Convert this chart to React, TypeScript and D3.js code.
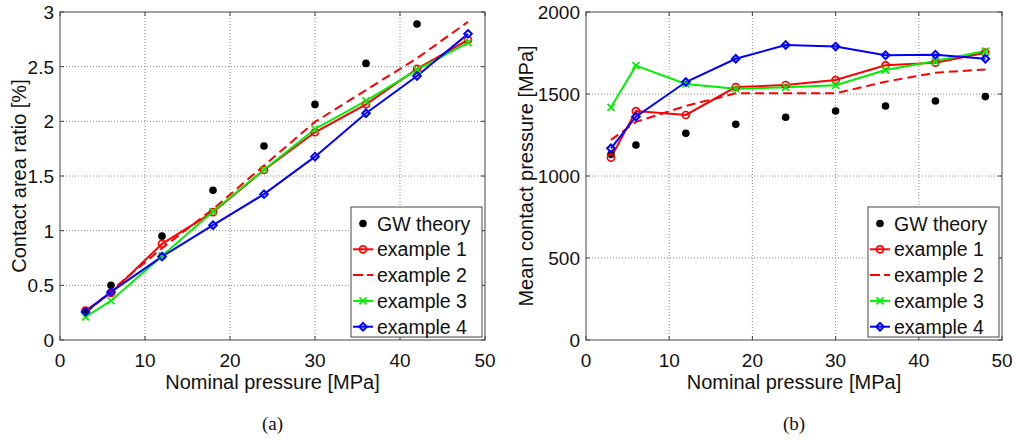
import React from "react";
import * as d3 from "d3";

const pressures = [3, 6, 12, 18, 24, 30, 36, 42, 48];

// Panel (a): contact area ratio [%]
const gwArea = [0.265, 0.5, 0.95, 1.37, 1.775, 2.155, 2.53, 2.89, 3.24];
const ex1Area = [0.27, 0.43, 0.88, 1.17, 1.555, 1.9, 2.156, 2.48, 2.745];
const ex2Area = [0.246, 0.45, 0.84, 1.197, 1.596, 1.995, 2.286, 2.577, 2.91];
const ex3Area = [0.211, 0.359, 0.769, 1.175, 1.557, 1.93, 2.187, 2.47, 2.72];
const ex4Area = [0.257, 0.44, 0.763, 1.05, 1.334, 1.677, 2.074, 2.414, 2.8];

// Panel (b): mean contact pressure [MPa]
const gwPres = [1132, 1189, 1260, 1315, 1358, 1396, 1427, 1457, 1484];
const ex1Pres = [1112, 1396, 1372, 1542, 1555, 1585, 1675, 1691, 1752];
const ex2Pres = [1220, 1330, 1427, 1504, 1504, 1504, 1575, 1630, 1650];
const ex3Pres = [1419, 1673, 1561, 1532, 1541, 1553, 1646, 1701, 1762];
const ex4Pres = [1169, 1362, 1573, 1715, 1799, 1789, 1736, 1740, 1715];

const xTicks = [0, 10, 20, 30, 40, 50];
const areaTicks = [0, 0.5, 1, 1.5, 2, 2.5, 3];
const areaTickLabels = ["0", "0.5", "1", "1.5", "2", "2.5", "3"];
const presTicks = [0, 500, 1000, 1500, 2000];
const presTickLabels = ["0", "500", "1000", "1500", "2000"];

const legendLabels = ["GW theory", "example 1", "example 2", "example 3", "example 4"];

const FONT = "'Liberation Sans', Arial, Helvetica, sans-serif";
const RED = "#ff0000";
const GREEN = "#00f000";
const BLUE = "#0000ff";

type Marker = "dot" | "circle" | "none" | "x" | "diamond";

function MarkerShape({ type, x, y, color }: { type: Marker; x: number; y: number; color: string }) {
  if (type === "dot") return <circle cx={x} cy={y} r={3.8} fill="#000" />;
  if (type === "circle")
    return <circle cx={x} cy={y} r={3.5} fill="none" stroke={color} strokeWidth={1.7} />;
  if (type === "x") {
    const s = 3.5;
    return (
      <path
        d={`M${x - s},${y - s}L${x + s},${y + s}M${x - s},${y + s}L${x + s},${y - s}`}
        stroke={color}
        strokeWidth={1.7}
        fill="none"
      />
    );
  }
  if (type === "diamond") {
    const s = 3.8;
    return (
      <path
        d={`M${x},${y - s}L${x + s},${y}L${x},${y + s}L${x - s},${y}Z`}
        stroke={color}
        strokeWidth={2}
        fill="none"
      />
    );
  }
  return null;
}

interface Series {
  values: number[];
  color: string;
  marker: Marker;
  dashed?: boolean;
  line: boolean;
}

interface PanelProps {
  id: string;
  left: number;
  right: number;
  top: number;
  bottom: number;
  yMax: number;
  yTicks: number[];
  yTickLabels: string[];
  yLabel: string;
  series: Series[];
  legendX: number;
  caption: string;
  yLabelX: number;
}

function Panel(p: PanelProps) {
  const x = d3.scaleLinear().domain([0, 50]).range([p.left, p.right]);
  const y = d3.scaleLinear().domain([0, p.yMax]).range([p.bottom, p.top]);
  const line = d3
    .line<number>()
    .x((_, i) => x(pressures[i]))
    .y((d) => y(d));
  const tickLen = 4;
  const cx = (p.left + p.right) / 2;
  const cy = (p.top + p.bottom) / 2;
  const lgTop = 207;
  const lgW = 131;
  const lgH = 130;
  const rowH = 25.8;
  return (
    <g>
      <defs>
        <clipPath id={p.id}>
          <rect x={p.left} y={p.top} width={p.right - p.left} height={p.bottom - p.top} />
        </clipPath>
      </defs>
      <rect x={p.left} y={p.top} width={p.right - p.left} height={p.bottom - p.top} fill="#fff" />
      {xTicks.slice(1, -1).map((t) => (
        <line
          key={"gx" + t}
          x1={x(t)}
          x2={x(t)}
          y1={p.top}
          y2={p.bottom}
          stroke="#888"
          strokeWidth={1}
          strokeDasharray="1,2"
        />
      ))}
      {p.yTicks.slice(1, -1).map((t) => (
        <line
          key={"gy" + t}
          x1={p.left}
          x2={p.right}
          y1={y(t)}
          y2={y(t)}
          stroke="#888"
          strokeWidth={1}
          strokeDasharray="1,2"
        />
      ))}
      {xTicks.map((t) => (
        <g key={"tx" + t}>
          <line x1={x(t)} x2={x(t)} y1={p.bottom} y2={p.bottom - tickLen} stroke="#444" />
          <line x1={x(t)} x2={x(t)} y1={p.top} y2={p.top + tickLen} stroke="#444" />
          <text
            x={x(t)}
            y={p.bottom + 27}
            textAnchor="middle"
            fontFamily={FONT}
            fontSize={19}
            fill="#111"
          >
            {t}
          </text>
        </g>
      ))}
      {p.yTicks.map((t, i) => (
        <g key={"ty" + t}>
          <line x1={p.left} x2={p.left + tickLen} y1={y(t)} y2={y(t)} stroke="#444" />
          <line x1={p.right} x2={p.right - tickLen} y1={y(t)} y2={y(t)} stroke="#444" />
          <text
            x={p.left - 6}
            y={y(t) + 7}
            textAnchor="end"
            fontFamily={FONT}
            fontSize={19}
            fill="#111"
          >
            {p.yTickLabels[i]}
          </text>
        </g>
      ))}
      <g clipPath={`url(#${p.id})`}>
        {p.series.map((s, si) =>
          s.line ? (
            <path
              key={"l" + si}
              d={line(s.values) || ""}
              fill="none"
              stroke={s.color}
              strokeWidth={2}
              strokeDasharray={s.dashed ? "9,5" : undefined}
            />
          ) : null
        )}
        {p.series.map((s, si) =>
          s.values.map((v, i) => (
            <MarkerShape key={"m" + si + "-" + i} type={s.marker} x={x(pressures[i])} y={y(v)} color={s.color} />
          ))
        )}
      </g>
      <rect
        x={p.left}
        y={p.top}
        width={p.right - p.left}
        height={p.bottom - p.top}
        fill="none"
        stroke="#444"
        strokeWidth={1}
      />
      <g>
        <rect x={p.legendX} y={lgTop} width={lgW} height={lgH} fill="#fff" stroke="#444" strokeWidth={1} />
        {p.series.map((s, si) => {
          const ry = lgTop + 16.5 + si * rowH;
          const lx1 = p.legendX + 2;
          const lx2 = p.legendX + 22;
          return (
            <g key={"lg" + si}>
              {s.line ? (
                <line
                  x1={lx1}
                  x2={lx2}
                  y1={ry}
                  y2={ry}
                  stroke={s.color}
                  strokeWidth={2}
                  strokeDasharray={s.dashed ? "10,4" : undefined}
                />
              ) : null}
              <MarkerShape type={s.marker} x={(lx1 + lx2) / 2} y={ry} color={s.color} />
              <text x={p.legendX + 26} y={ry + 7} fontFamily={FONT} fontSize={19.5} fill="#111">
                {legendLabels[si]}
              </text>
            </g>
          );
        })}
      </g>
      <text x={cx} y={389} textAnchor="middle" fontFamily={FONT} fontSize={20} fill="#111">
        Nominal pressure [MPa]
      </text>
      <text
        transform={`translate(${p.yLabelX},${cy}) rotate(-90)`}
        textAnchor="middle"
        fontFamily={FONT}
        fontSize={20}
        fill="#111"
      >
        {p.yLabel}
      </text>
      <text
        x={cx}
        y={430}
        textAnchor="middle"
        fontFamily="'Liberation Serif', 'DejaVu Serif', serif"
        fontSize={19}
        fill="#111"
      >
        {p.caption}
      </text>
    </g>
  );
}

export default function App() {
  const seriesA: Series[] = [
    { values: gwArea, color: "#000", marker: "dot", line: false },
    { values: ex1Area, color: RED, marker: "circle", line: true },
    { values: ex2Area, color: RED, marker: "none", line: true, dashed: true },
    { values: ex3Area, color: GREEN, marker: "x", line: true },
    { values: ex4Area, color: BLUE, marker: "diamond", line: true },
  ];
  const seriesB: Series[] = [
    { values: gwPres, color: "#000", marker: "dot", line: false },
    { values: ex1Pres, color: RED, marker: "circle", line: true },
    { values: ex2Pres, color: RED, marker: "none", line: true, dashed: true },
    { values: ex3Pres, color: GREEN, marker: "x", line: true },
    { values: ex4Pres, color: BLUE, marker: "diamond", line: true },
  ];
  return (
    <svg
      width={1017}
      height={441}
      style={{ position: "absolute", left: 0, top: 0, background: "#fff" }}
    >
      <rect x={0} y={0} width={1017} height={441} fill="#fff" />
      <Panel
        id="clipA"
        left={60}
        right={485}
        top={12}
        bottom={340}
        yMax={3}
        yTicks={areaTicks}
        yTickLabels={areaTickLabels}
        yLabel="Contact area ratio [%]"
        series={seriesA}
        legendX={351}
        caption="(a)"
        yLabelX={26}
      />
      <Panel
        id="clipB"
        left={586}
        right={1002}
        top={12}
        bottom={340}
        yMax={2000}
        yTicks={presTicks}
        yTickLabels={presTickLabels}
        yLabel="Mean contact pressure [MPa]"
        series={seriesB}
        legendX={868}
        caption="(b)"
        yLabelX={533}
      />
    </svg>
  );
}
